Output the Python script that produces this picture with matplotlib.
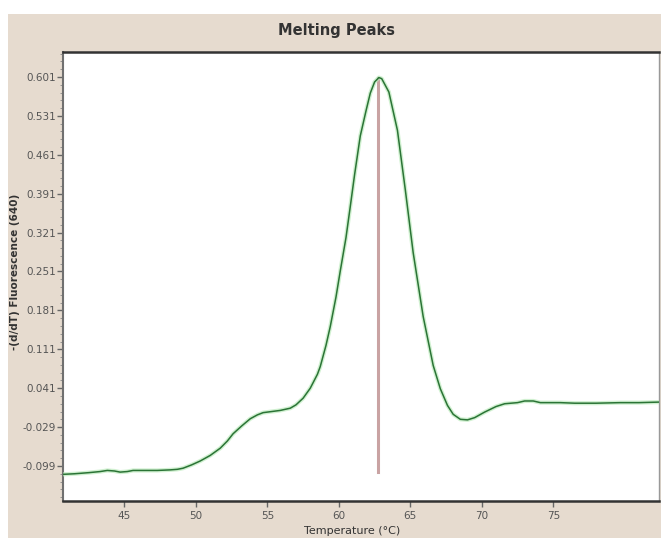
import matplotlib
matplotlib.use("Agg")
import matplotlib.pyplot as plt
from matplotlib.patches import Rectangle
from matplotlib.ticker import FixedLocator

# melting curve
temp = [40.7, 41.5, 42.5, 43.3, 43.8, 44.3, 44.7, 45.2, 45.6, 46.5, 47.3, 48.2,
        48.7, 49.1, 49.7, 50.3, 51.0, 51.7, 52.2, 52.6, 53.2, 53.8, 54.3, 54.7,
        55.3, 55.9, 56.6, 57.0, 57.5, 58.0, 58.5, 58.7, 59.1, 59.4, 59.8, 60.1,
        60.5, 60.8, 61.1, 61.5, 61.9, 62.2, 62.5, 62.8, 63.0, 63.5, 64.1, 64.65,
        65.2, 65.9, 66.6, 67.1, 67.6, 68.0, 68.5, 69.0, 69.5, 70.2, 71.0, 71.6,
        72.5, 73.0, 73.6, 74.1, 75.5, 76.5, 78.0, 79.7, 81.0, 82.4]
deriv = [-0.114, -0.113, -0.111, -0.109, -0.107, -0.108, -0.110, -0.109, -0.107,
         -0.107, -0.107, -0.106, -0.105, -0.103, -0.097, -0.090, -0.080, -0.067,
         -0.054, -0.041, -0.027, -0.014, -0.007, -0.003, -0.001, 0.001, 0.005,
         0.011, 0.023, 0.041, 0.066, 0.080, 0.118, 0.152, 0.205, 0.252, 0.312,
         0.368, 0.425, 0.495, 0.540, 0.572, 0.592, 0.600, 0.598, 0.574, 0.505,
         0.398, 0.285, 0.170, 0.082, 0.040, 0.010, -0.006, -0.015, -0.016, -0.012,
         -0.002, 0.008, 0.013, 0.015, 0.018, 0.018, 0.015, 0.015, 0.014, 0.014,
         0.015, 0.015, 0.016]

peak_temp = 62.72
peak_val = 0.600
peak_base = -0.110

yticks = [0.601, 0.531, 0.461, 0.391, 0.321, 0.251, 0.181, 0.111, 0.041, -0.029, -0.099]
xticks = [45, 50, 55, 60, 65, 70, 75]

narrow = ['Liberation Sans Narrow', 'DejaVu Sans']

fig = plt.figure(figsize=(6.61, 5.38), dpi=100)
fig.patch.set_facecolor('#e6dbcf')
# white strips at the top and left edge of the screenshot
fig.patches.append(Rectangle((0, 1 - 14 / 538), 1, 14 / 538, transform=fig.transFigure,
                             facecolor='white', edgecolor='none', zorder=-5))
fig.patches.append(Rectangle((0, 0), 8 / 661, 1, transform=fig.transFigure,
                             facecolor='white', edgecolor='none', zorder=-5))

ax = fig.add_axes([63 / 661, 37 / 538, (659 - 63) / 661, (501 - 52) / 538])
ax.set_facecolor('white')

ax.plot([peak_temp, peak_temp], [peak_base, peak_val], color='#c9a3a3', lw=2.2, zorder=2)
ax.plot(temp, deriv, color='#bdebbd', lw=3.0, zorder=3, alpha=0.7)
ax.plot(temp, deriv, color='#2b7436', lw=1.1, zorder=4)

ax.set_xlim(40.7, 82.4)
ax.set_ylim(-0.162, 0.646)

ax.set_xticks(xticks)
ax.set_yticks(yticks)
ax.set_yticklabels(["%.3f" % v for v in yticks])
ax.yaxis.set_minor_locator(FixedLocator([0.601 - 0.014 * k for k in range(-3, 55)]))
ax.tick_params(axis='both', direction='out', colors='#666666', labelcolor='#555555',
               labelsize=7.5, length=4, width=1)
ax.tick_params(axis='y', which='minor', direction='out', length=2.5, colors='#888888')
ax.tick_params(axis='y', pad=1)
ax.tick_params(axis='x', pad=3)
for lab in ax.get_xticklabels() + ax.get_yticklabels():
    lab.set_family(narrow)

for side in ['top', 'bottom']:
    ax.spines[side].set_color('#333333')
    ax.spines[side].set_linewidth(1.8)
ax.spines['left'].set_color('#707070')
ax.spines['left'].set_linewidth(1.5)
ax.spines['right'].set_color('#999999')
ax.spines['right'].set_linewidth(1.0)

fig.text(337 / 661, 1 - 30 / 538, 'Melting Peaks', ha='center', va='center',
         fontsize=10.5, fontweight='bold', color='#333333', family=narrow)
fig.text(15 / 661, 1 - 272 / 538, '-(d/dT) Fluorescence (640)', rotation=90,
         ha='center', va='center', fontsize=7.5, fontweight='bold', color='#333333',
         family=narrow)
fig.text(352 / 661, 1 - 526 / 538, 'Temperature (°C)', ha='center', va='top',
         fontsize=8, color='#333333', family=narrow)

fig.savefig('out.png', dpi=100, facecolor=fig.get_facecolor())
